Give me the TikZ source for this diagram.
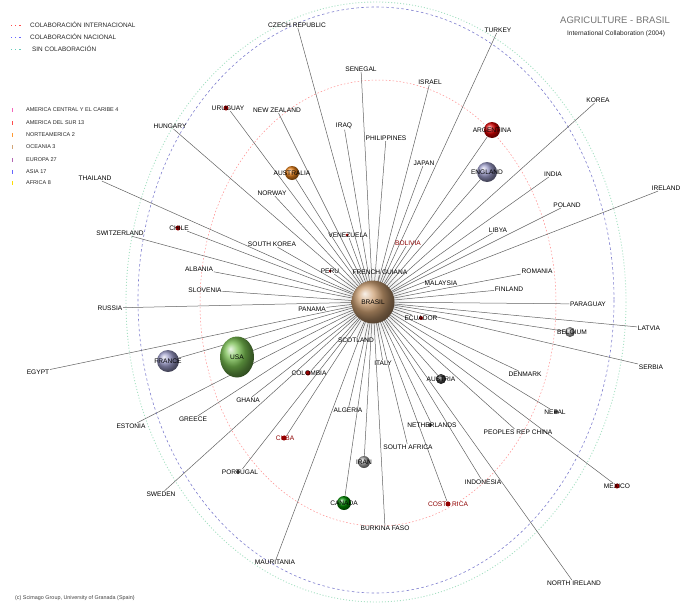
\documentclass[tikz,border=0pt]{standalone}
\usepackage{fontspec}
\setmainfont{Liberation Sans}
\usetikzlibrary{shapes.geometric}
\pgfdeclarelayer{bg}
\pgfsetlayers{bg,main}
\definecolor{usagreen}{RGB}{120,190,80}
\definecolor{brasiltan}{RGB}{205,160,115}
\begin{document}
\begin{tikzpicture}[x=1pt,y=-1pt,
  lbl/.style={font=\fontsize{6.6}{7}\selectfont, inner sep=0.6pt, text=black},
  rlbl/.style={lbl, text=red!55!black},
  ballnode/.style={circle, inner sep=0pt, ball color=#1},
  dotn/.style={circle, inner sep=0pt, minimum size=5pt, fill=#1},
  conn/.style={draw=black!62, line width=0.5pt},
  legtxt/.style={font=\fontsize{6.4}{7}\selectfont, anchor=west, inner sep=0pt, text=black!85},
  regtxt/.style={font=\fontsize{5.5}{6}\selectfont, anchor=west, inner sep=0pt, text=black!85}]
\useasboundingbox (0,0) rectangle (692,605);

% ---------- legend ----------
\draw[red!70, line width=0.8pt, dash pattern=on 1.2pt off 3pt] (11,25) -- (21,25);
\draw[blue!60, line width=0.8pt, dash pattern=on 1.2pt off 3pt] (11,37) -- (21,37);
\draw[cyan!50!green!60, line width=0.8pt, dash pattern=on 1.2pt off 3pt] (11,49) -- (21,49);
\node[legtxt] (lg1) at (30,25) {COLABORACIÓN INTERNACIONAL};
\node[legtxt] (lg2) at (30,37) {COLABORACIÓN NACIONAL};
\node[legtxt] (lg3) at (32,49) {SIN COLABORACIÓN};

\foreach \yy/\cc in {110/magenta!60, 123/red!70, 135/orange!80, 147/brown!70, 160/violet!60, 172/blue!60, 183/yellow!80!orange}
  \draw[\cc, line width=0.8pt] (12,\yy-2) -- (12,\yy+2);
\node[regtxt] (r1) at (26,110) {AMERICA CENTRAL Y EL CARIBE 4};
\node[regtxt] (r2) at (26,123) {AMERICA DEL SUR 13};
\node[regtxt] (r3) at (26,135) {NORTEAMERICA 2};
\node[regtxt] (r4) at (26,147) {OCEANIA 3};
\node[regtxt] (r5) at (26,160) {EUROPA 27};
\node[regtxt] (r6) at (26,172) {ASIA 17};
\node[regtxt] (r7) at (26,183) {AFRICA 8};

\node[font=\fontsize{9.5}{10}\selectfont, text=black!55, inner sep=0pt] (title) at (615,20) {AGRICULTURE - BRASIL};
\node[font=\fontsize{6.6}{7}\selectfont, text=black!85, inner sep=0pt] (subtitle) at (616,34) {International Collaboration (2004)};
\node[font=\fontsize{5.4}{6}\selectfont, text=black!75, anchor=west, inner sep=0pt] (credit) at (15,598) {(c) Scimago Group, University of Granada (Spain)};

% ---------- balls and dots ----------
\node[ballnode=brasiltan, minimum size=43pt] (brasil) at (373,302) {};
\node[ellipse, inner sep=0pt, minimum width=34pt, minimum height=41pt, ball color=usagreen] (usa) at (237,357) {};
\node[ballnode=gray!70!blue!60, minimum size=22pt] (france) at (168,361) {};
\node[ballnode=gray!70!blue!60, minimum size=20pt] (england) at (487,172) {};
\node[ballnode=red!85!black, minimum size=16pt] (argentina) at (492,130) {};
\node[ballnode=orange!60!brown, minimum size=14pt] (australia) at (292,173) {};
\node[ballnode=green!55!black, minimum size=14pt] (canada) at (344,503) {};
\node[ballnode=gray!70, minimum size=10pt] (belgium) at (570,332) {};
\node[ballnode=gray!70, minimum size=12pt] (iran) at (364,462) {};
\node[ballnode=gray!50!black, minimum size=10pt] (austria) at (441,379) {};

\node[dotn=red!60!black] (d-uruguay) at (226,108) {};
\node[dotn=red!60!black] (d-chile) at (178,228) {};
\node[dotn=red!60!black, minimum size=3pt] (d-venez) at (347,235) {};
\node[dotn=red!60!black, minimum size=3pt] (d-peru) at (330,271) {};
\node[dotn=red!60!black, minimum size=4pt] (d-ecuador) at (421,318) {};
\node[dotn=red!60!black] (d-colombia) at (308,373) {};
\node[dotn=red!60!black] (d-cuba) at (284,438) {};
\node[dotn=black!70, minimum size=4pt] (d-portugal) at (238,472) {};
\node[dotn=black!70, minimum size=4pt] (d-nepal) at (556,412) {};
\node[dotn=black!70, minimum size=4pt] (d-nether) at (430,425) {};
\node[dotn=red!60!black] (d-mexico) at (617,486) {};
\node[dotn=red!60!black] (d-costa) at (448,504) {};

% ---------- labels ----------
\node[lbl] (brasil-t) at (373,302) {BRASIL};
\node[lbl] (usa-t) at (237,357) {USA};
\node[lbl] (france-t) at (168,361) {FRANCE};
\node[lbl] (england-t) at (487,172) {ENGLAND};
\node[lbl] (argentina-t) at (492,130) {ARGENTINA};
\node[lbl] (australia-t) at (292,173) {AUSTRALIA};
\node[lbl] (canada-t) at (344,503) {CANADA};
\node[lbl] (belgium-t) at (572,332) {BELGIUM};
\node[lbl] (iran-t) at (364,462) {IRAN};
\node[lbl] (austria-t) at (441,379) {AUSTRIA};

\node[lbl] (czech) at (297,25) {CZECH REPUBLIC};
\node[lbl] (turkey) at (498,30) {TURKEY};
\node[lbl] (senegal) at (361,69) {SENEGAL};
\node[lbl] (israel) at (430,82) {ISRAEL};
\node[lbl] (korea) at (598,100) {KOREA};
\node[lbl] (nz) at (277,110) {NEW ZEALAND};
\node[lbl] (uruguay) at (228,108) {URUGUAY};
\node[lbl] (hungary) at (170,126) {HUNGARY};
\node[lbl] (iraq) at (344,126) {IRAQ};
\node[lbl] (phil) at (386,138) {PHILIPPINES};
\node[lbl] (japan) at (424,163) {JAPAN};
\node[lbl] (india) at (553,174) {INDIA};
\node[lbl] (ireland) at (666,188) {IRELAND};
\node[lbl] (norway) at (272,193) {NORWAY};
\node[lbl] (thailand) at (95,178) {THAILAND};
\node[lbl] (poland) at (567,205) {POLAND};
\node[lbl] (chile) at (179,228) {CHILE};
\node[lbl] (switz) at (120,233) {SWITZERLAND};
\node[lbl] (libya) at (498,230) {LIBYA};
\node[lbl] (venez) at (348,235) {VENEZUELA};
\node[rlbl] (bolivia) at (408,243) {BOLIVIA};
\node[lbl] (skorea) at (272,244) {SOUTH KOREA};
\node[lbl] (albania) at (199,269) {ALBANIA};
\node[lbl] (romania) at (537,271) {ROMANIA};
\node[lbl] (peru) at (330,271) {PERU};
\node[lbl] (fguiana) at (380,272) {FRENCH GUIANA};
\node[lbl] (malaysia) at (441,283) {MALAYSIA};
\node[lbl] (finland) at (509,289) {FINLAND};
\node[lbl] (slovenia) at (205,290) {SLOVENIA};
\node[lbl] (paraguay) at (588,304) {PARAGUAY};
\node[lbl] (russia) at (110,308) {RUSSIA};
\node[lbl] (panama) at (312,309) {PANAMA};
\node[lbl] (ecuador) at (421,318) {ECUADOR};
\node[lbl] (latvia) at (649,328) {LATVIA};
\node[lbl] (scotland) at (356,340) {SCOTLAND};
\node[lbl] (italy) at (383,363) {ITALY};
\node[lbl] (serbia) at (651,367) {SERBIA};
\node[lbl] (egypt) at (38,372) {EGYPT};
\node[lbl] (colombia) at (309,373) {COLOMBIA};
\node[lbl] (denmark) at (525,374) {DENMARK};
\node[lbl] (ghana) at (248,400) {GHANA};
\node[lbl] (algeria) at (348,410) {ALGERIA};
\node[lbl] (nepal) at (555,412) {NEPAL};
\node[lbl] (greece) at (193,419) {GREECE};
\node[lbl] (nether) at (432,425) {NETHERLANDS};
\node[lbl] (estonia) at (131,426) {ESTONIA};
\node[lbl] (pchina) at (518,432) {PEOPLES REP CHINA};
\node[rlbl] (cuba) at (285,438) {CUBA};
\node[lbl] (safrica) at (408,447) {SOUTH AFRICA};
\node[lbl] (portugal) at (240,472) {PORTUGAL};
\node[lbl] (indonesia) at (483,482) {INDONESIA};
\node[lbl] (mexico) at (617,486) {MEXICO};
\node[lbl] (sweden) at (161,494) {SWEDEN};
\node[rlbl] (costa) at (448,504) {COSTA RICA};
\node[lbl] (burkina) at (385,528) {BURKINA FASO};
\node[lbl] (mauritania) at (275,562) {MAURITANIA};
\node[lbl] (nireland) at (574,583) {NORTH IRELAND};

% ---------- background: rings and connectors ----------
\begin{pgfonlayer}{bg}
  \draw[cyan!30!green!35, line width=0.9pt, dash pattern=on 1pt off 2pt] (376,302) ellipse [x radius=250, y radius=300];
  \draw[blue!45!gray!70, line width=0.6pt, dash pattern=on 2.5pt off 2.5pt] (376,300) ellipse [x radius=238, y radius=293];
  \draw[red!45, line width=0.5pt, dash pattern=on 1.5pt off 2pt] (378,303) ellipse [x radius=178, y radius=223];
  \shade[inner color=gray!30, outer color=white] (brasil.center) circle (40);
  \foreach \n in {czech,turkey,senegal,israel,korea,nz,uruguay,hungary,iraq,phil,
     japan,india,ireland,norway,thailand,poland,chile,switz,libya,venez,bolivia,
     skorea,albania,romania,peru,fguiana,malaysia,finland,slovenia,paraguay,russia,
     panama,ecuador,latvia,scotland,italy,serbia,egypt,colombia,denmark,ghana,
     algeria,nepal,greece,nether,estonia,pchina,cuba,safrica,portugal,indonesia,
     mexico,sweden,costa,burkina,mauritania,nireland,
     usa,france,england,argentina,australia,canada,belgium,iran,austria}
    \draw[conn] (brasil.center) -- (\n);
\end{pgfonlayer}
\end{tikzpicture}
\end{document}
